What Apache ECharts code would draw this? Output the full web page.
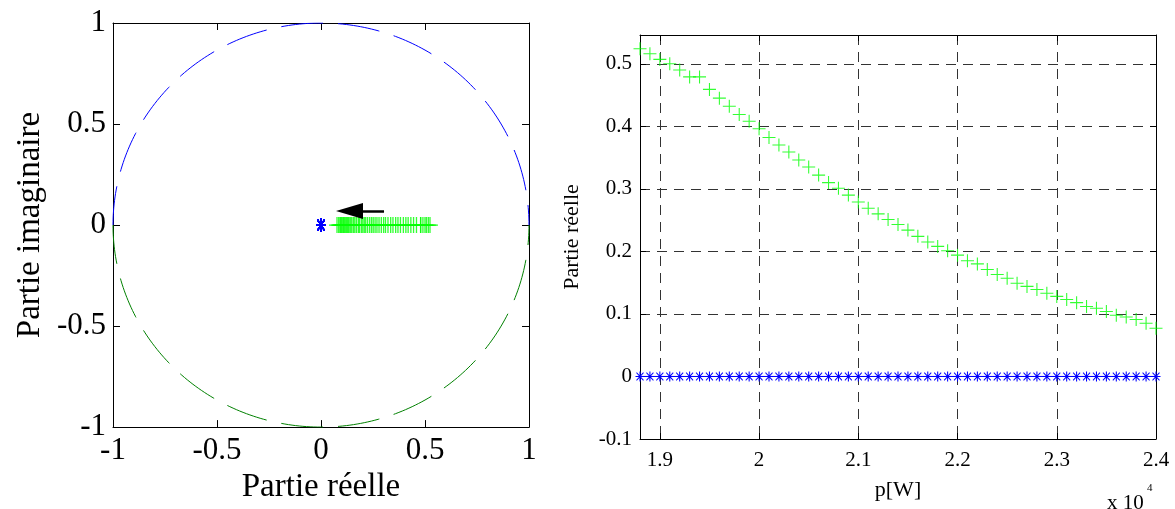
<!DOCTYPE html>
<html><head><meta charset="utf-8">
<script src="https://cdn.jsdelivr.net/npm/echarts@6/dist/echarts.min.js"></script>
<style>html,body{margin:0;padding:0;background:#fff}#c{width:1175px;height:509px}</style>
</head><body><div id="c"></div>
<script>
// ---- data ----
const pW = [18800, 18900, 19000, 19100, 19200, 19300, 19400, 19500, 19600, 19700,
            19800, 19900, 20000, 20100, 20200, 20300, 20400, 20500, 20600, 20700,
            20800, 20900, 21000, 21100, 21200, 21300, 21400, 21500, 21600, 21700,
            21800, 21900, 22000, 22100, 22200, 22300, 22400, 22500, 22600, 22700,
            22800, 22900, 23000, 23100, 23200, 23300, 23400, 23500, 23600, 23700,
            23800, 23900, 24000];
// real part of pole 1 (green +)
const realPole1 = [0.524, 0.516, 0.507, 0.500, 0.490, 0.479, 0.479, 0.459, 0.445, 0.432,
                   0.419, 0.408, 0.396, 0.382, 0.370, 0.359, 0.346, 0.335, 0.322, 0.310,
                   0.301, 0.290, 0.279, 0.269, 0.260, 0.251, 0.243, 0.234, 0.224, 0.215,
                   0.208, 0.201, 0.194, 0.185, 0.180, 0.171, 0.163, 0.157, 0.149, 0.144,
                   0.139, 0.133, 0.128, 0.123, 0.118, 0.112, 0.109, 0.104, 0.098, 0.095,
                   0.091, 0.085, 0.077];
// imaginary part of pole 1
const imagPole1 = [0,0,0,0,0,0,0,0,0,0, 0,0,0,0,0,0,0,0,0,0, 0,0,0,0,0,0,0,0,0,0,
                   0,0,0,0,0,0,0,0,0,0, 0,0,0,0,0,0,0,0,0,0, 0,0,0];
// real / imaginary part of pole 2 (blue *)
const realPole2 = [0,0,0,0,0,0,0,0,0,0, 0,0,0,0,0,0,0,0,0,0, 0,0,0,0,0,0,0,0,0,0,
                   0,0,0,0,0,0,0,0,0,0, 0,0,0,0,0,0,0,0,0,0, 0,0,0];
const imagPole2 = [0,0,0,0,0,0,0,0,0,0, 0,0,0,0,0,0,0,0,0,0, 0,0,0,0,0,0,0,0,0,0,
                   0,0,0,0,0,0,0,0,0,0, 0,0,0,0,0,0,0,0,0,0, 0,0,0];
const rightXTicks = [19000, 20000, 21000, 22000, 23000, 24000];
const rightYTicks = [-0.1, 0, 0.1, 0.2, 0.3, 0.4, 0.5];
const arrowTail = [0.303, 0.069];
const arrowHeadCenter = [0.137, 0.069];

// unit circle (reference geometry of the pole-zero plane)
const UNIT_STEPS = 180;
const circleUpper = [], circleLower = [];
for (let k = 0; k <= UNIT_STEPS; k++) {
  const a = k * Math.PI / UNIT_STEPS;
  circleUpper.push([Math.cos(a), Math.sin(a)]);
  circleLower.push([Math.cos(a), -Math.sin(a)]);
}

const FONT = 'Liberation Serif';
const plusPath = 'path://M0,5.5H12V6.5H0Z M5.5,0H6.5V12H5.5Z';
const starPath = 'path://M0,5.3H12V6.7H0Z M5.3,0H6.7V12H5.3Z M1.8,0.9L11.1,10.2L10.2,11.1L0.9,1.8Z M10.2,0.9L11.1,1.8L1.8,11.1L0.9,10.2Z';

const chart = echarts.init(document.getElementById('c'), null, {renderer: 'canvas'});

const lineBlack = {show: true, onZero: false, lineStyle: {color: '#000', width: 1}};
function boxAxis(base) { return Object.assign({axisLine: lineBlack, splitLine: {show: false}}, base); }

const option = {
  animation: false,
  backgroundColor: '#fff',
  grid: [
    {left: 113, top: 23, width: 416, height: 411},
    {left: 640, top: 35, width: 516, height: 404}
  ],
  xAxis: [
    boxAxis({gridIndex: 0, type: 'value', position: 'bottom', min: -1, max: 1, interval: 0.5,
      axisTick: {inside: true, length: 7, lineStyle: {color: '#000'}},
      axisLabel: {fontFamily: FONT, fontSize: 31, color: '#000', margin: 8},
      name: 'Partie réelle', nameLocation: 'middle', nameGap: 42,
      nameTextStyle: {fontFamily: FONT, fontSize: 33, color: '#000'}}),
    boxAxis({gridIndex: 0, type: 'value', position: 'top', min: -1, max: 1, interval: 0.5,
      axisTick: {inside: true, length: 7, lineStyle: {color: '#000'}},
      axisLabel: {show: false}}),
    boxAxis({gridIndex: 1, type: 'value', position: 'bottom', min: 18800, max: 24000,
      axisTick: {inside: true, length: 6, lineStyle: {color: '#000'}, customValues: rightXTicks},
      axisLabel: {fontFamily: FONT, fontSize: 21, color: '#000', margin: 11, customValues: rightXTicks,
        formatter: v => String(v / 10000)},
      splitLine: {show: true, lineStyle: {color: '#333', width: 1, type: [10, 7]}},
      name: 'p[W]', nameLocation: 'middle', nameGap: 40,
      nameTextStyle: {fontFamily: FONT, fontSize: 22, color: '#000'}}),
    boxAxis({gridIndex: 1, type: 'value', position: 'top', min: 18800, max: 24000,
      axisTick: {inside: true, length: 6, lineStyle: {color: '#000'}, customValues: rightXTicks},
      axisLabel: {show: false}})
  ],
  yAxis: [
    boxAxis({gridIndex: 0, type: 'value', position: 'left', min: -1, max: 1, interval: 0.5,
      axisTick: {inside: true, length: 7, lineStyle: {color: '#000'}},
      axisLabel: {fontFamily: FONT, fontSize: 31, color: '#000', margin: 7},
      name: 'Partie imaginaire', nameLocation: 'middle', nameGap: 66, nameRotate: 90,
      nameTextStyle: {fontFamily: FONT, fontSize: 33, color: '#000'}}),
    boxAxis({gridIndex: 0, type: 'value', position: 'right', min: -1, max: 1, interval: 0.5,
      axisTick: {inside: true, length: 7, lineStyle: {color: '#000'}},
      axisLabel: {show: false}}),
    boxAxis({gridIndex: 1, type: 'value', position: 'left', min: -0.1, max: 0.546,
      axisTick: {inside: true, length: 6, lineStyle: {color: '#000'}, customValues: rightYTicks},
      axisLabel: {fontFamily: FONT, fontSize: 21, color: '#000', margin: 8, customValues: rightYTicks},
      splitLine: {show: true, lineStyle: {color: '#333', width: 1, type: [10, 7]}},
      name: 'Partie réelle', nameLocation: 'middle', nameGap: 57, nameRotate: 90,
      nameTextStyle: {fontFamily: FONT, fontSize: 22, color: '#000'}}),
    boxAxis({gridIndex: 1, type: 'value', position: 'right', min: -0.1, max: 0.546,
      axisTick: {inside: true, length: 6, lineStyle: {color: '#000'}, customValues: rightYTicks},
      axisLabel: {show: false}})
  ],
  series: [
    {type: 'line', xAxisIndex: 0, yAxisIndex: 0, data: circleUpper, showSymbol: false, silent: true,
      lineStyle: {color: '#0000ff', width: 1, type: [42, 15], dashOffset: 22}},
    {type: 'line', xAxisIndex: 0, yAxisIndex: 0, data: circleLower, showSymbol: false, silent: true,
      lineStyle: {color: '#008000', width: 1, type: [42, 15], dashOffset: 22}},
    {type: 'scatter', xAxisIndex: 0, yAxisIndex: 0,
      data: realPole1.map((v, i) => [v, imagPole1[i]]),
      symbol: plusPath, symbolSize: 16, itemStyle: {color: '#00ff00'}, silent: true,
      markLine: {silent: true, animation: false, label: {show: false},
        lineStyle: {color: '#000', width: 2.5, type: 'solid'},
        symbol: ['none', 'triangle'],
        data: [[{coord: arrowTail, symbol: 'none'},
                {coord: arrowHeadCenter, symbol: 'triangle', symbolSize: [16, 27], itemStyle: {color: '#000'}}]]}},
    {type: 'scatter', xAxisIndex: 0, yAxisIndex: 0,
      data: realPole2.map((v, i) => [v, imagPole2[i]]),
      symbol: starPath, symbolSize: [9, 14], itemStyle: {color: '#0000ff'}, silent: true},
    {type: 'scatter', xAxisIndex: 2, yAxisIndex: 2,
      data: pW.map((p, i) => [p, realPole1[i]]),
      symbol: plusPath, symbolSize: 13, itemStyle: {color: '#00ff00'}, silent: true},
    {type: 'line', xAxisIndex: 2, yAxisIndex: 2,
      data: pW.map((p, i) => [p, realPole2[i]]),
      symbol: starPath, symbolSize: [9, 10], showAllSymbol: true, silent: true,
      itemStyle: {color: '#0000ff'}, lineStyle: {color: '#0000ff', width: 1}}
  ],
  graphic: [
    {type: 'text', left: 1107, top: 493, silent: true,
      style: {text: 'x 10', fontFamily: FONT, fontSize: 21, fill: '#000'}},
    {type: 'text', left: 1147, top: 483, silent: true,
      style: {text: '4', fontFamily: FONT, fontSize: 11, fill: '#000'}}
  ]
};
chart.setOption(option);
</script>
</body></html>
